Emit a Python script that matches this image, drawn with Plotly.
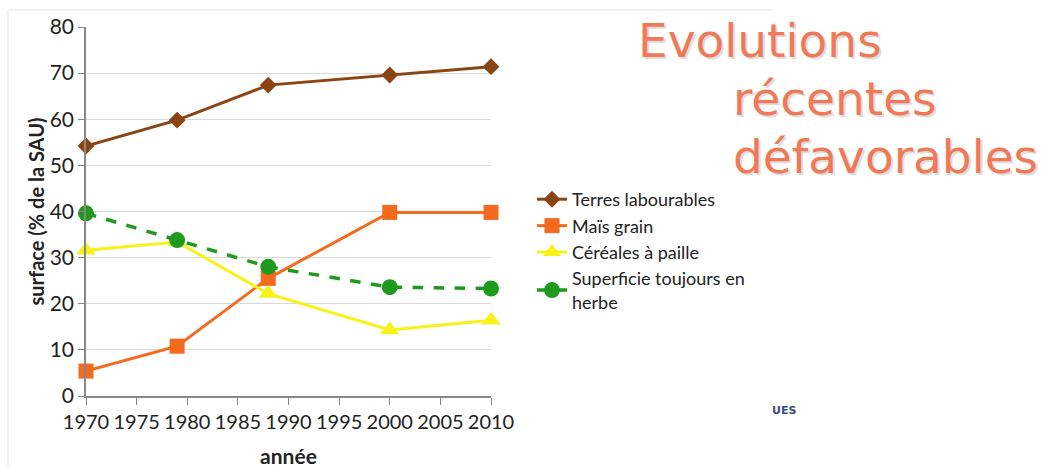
import plotly.graph_objects as go

years = [1970, 1979, 1988, 2000, 2010]
terres = [54.2, 59.8, 67.4, 69.6, 71.4]
mais = [5.4, 10.8, 25.5, 39.8, 39.8]
cereales = [31.6, 33.4, 22.2, 14.3, 16.4]
sth = [39.6, 33.8, 28.0, 23.6, 23.3]

names = ["Terres labourables", "Maïs grain", "Céréales à paille",
         "Superficie toujours en<br>herbe"]
title_lines = ["Evolutions", "récentes", "défavorables"]
xticks = [1970, 1975, 1980, 1985, 1990, 1995, 2000, 2005, 2010]
yticks = [0, 10, 20, 30, 40, 50, 60, 70, 80]

W, H = 1045, 468
L, R, T, B = 86, 491, 27, 396
FONT = "Lato"

def px(x):
    return (x - L) / (R - L)

def py(y):
    return (B - y) / (B - T)

fig = go.Figure()
fig.add_trace(go.Scatter(x=years, y=terres, name=names[0], mode="lines+markers",
                         line=dict(color="#8B4513", width=3),
                         marker=dict(symbol="diamond", size=13, color="#8B4513"),
                         cliponaxis=False))
fig.add_trace(go.Scatter(x=years, y=mais, name=names[1], mode="lines+markers",
                         line=dict(color="#F46A1E", width=3),
                         marker=dict(symbol="square", size=15, color="#F46A1E"),
                         cliponaxis=False))
fig.add_trace(go.Scatter(x=years, y=cereales, name=names[2], mode="lines+markers",
                         line=dict(color="#F8F21A", width=3),
                         marker=dict(symbol="triangle-up", size=17, color="#F8F21A"),
                         cliponaxis=False))
fig.add_trace(go.Scatter(x=years, y=sth, name=names[3], mode="lines+markers",
                         line=dict(color="#1E9A1E", width=3.5, dash="dash"),
                         marker=dict(symbol="circle", size=16, color="#1E9A1E"),
                         cliponaxis=False))

annotations = []
title_pos = [(636, 58), (731, 116), (731, 174)]
for txt, (x0, yb) in zip(title_lines, title_pos):
    for dx, dy, col in [(1.5, 1.5, "rgba(160,160,160,0.35)"), (0, 0, "#F07A58")]:
        annotations.append(dict(text=txt, xref="paper", yref="paper",
                                x=px(x0 + dx), y=py(yb + dy + 12), xanchor="left", yanchor="bottom",
                                showarrow=False,
                                font=dict(family="DejaVu Sans", size=47, color=col)))
annotations.append(dict(text="<b>UES</b>", xref="paper", yref="paper",
                        x=px(770), y=py(410), xanchor="left", yanchor="middle",
                        showarrow=False, font=dict(family="DejaVu Sans", size=11, color="#3B4A7E")))

fig.update_layout(
    width=W, height=H,
    margin=dict(l=L, r=W - R, t=T, b=H - B, autoexpand=False),
    paper_bgcolor="white", plot_bgcolor="white",
    font=dict(family=FONT, color="#222"),
    showlegend=True,
    legend=dict(x=px(532), y=py(181), xanchor="left", yanchor="top",
                font=dict(family=FONT, size=18, color="#222"),
                tracegroupgap=0, itemwidth=30, bgcolor="rgba(0,0,0,0)"),
    annotations=annotations,
    xaxis=dict(range=[1970, 2010], tickvals=xticks, ticks="outside", ticklen=7,
               tickcolor="#888", showline=True, linecolor="#888", linewidth=1.5,
               showgrid=False, zeroline=False, tickangle=0, automargin=False,
               tickfont=dict(family=FONT, size=20, color="#222"),
               title=dict(text="<b>année</b>", font=dict(family=FONT, size=21, color="#222"), standoff=18)),
    yaxis=dict(range=[0, 80], tickvals=yticks, ticks="outside", ticklen=6,
               tickcolor="#888", showline=True, linecolor="#888", linewidth=1.5,
               showgrid=True, gridcolor="#D9D9D9", gridwidth=1, zeroline=False, automargin=False,
               tickfont=dict(family=FONT, size=21, color="#222"),
               title=dict(text="<b>surface (% de la SAU)</b>", font=dict(family=FONT, size=20, color="#222"), standoff=0)),
    shapes=[
        dict(type="line", xref="paper", yref="paper", x0=px(8), x1=px(772), y0=py(10), y1=py(10),
             line=dict(color="#EEEEEE", width=1.5)),
        dict(type="line", xref="paper", yref="paper", x0=px(8), x1=px(8), y0=py(10), y1=py(468),
             line=dict(color="#EEEEEE", width=1.5)),
    ],
)

fig.write_html("out.html", config={"displayModeBar": False},
               post_script="document.body.style.margin='0';")
